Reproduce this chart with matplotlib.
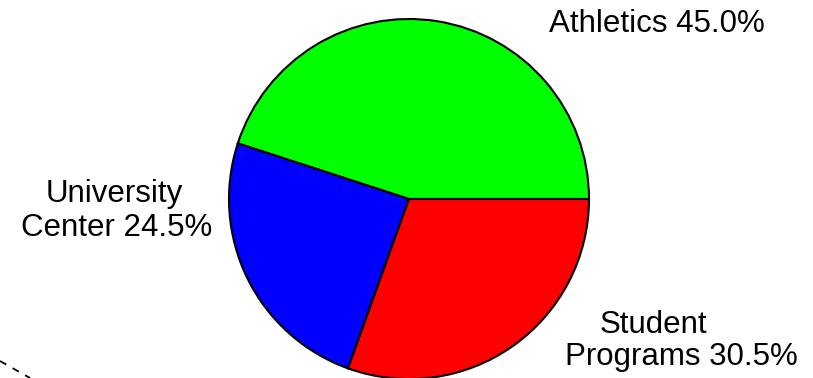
import matplotlib
matplotlib.use("Agg")
import matplotlib.pyplot as plt
from matplotlib.lines import Line2D

categories = ["Athletics", "University Center", "Student Programs"]
shares = [45.0, 24.5, 30.5]
colors = ["#00ff00", "#0000ff", "#ff0000"]

W, H = 813, 378
fig = plt.figure(figsize=(W / 100, H / 100), dpi=100)
ax = fig.add_axes([0, 0, 1, 1])

ax.pie(shares, colors=colors, startangle=0, counterclock=True,
       center=(409, H - 199), radius=180, frame=True,
       wedgeprops=dict(edgecolor="black", linewidth=1.5))
ax.set_xlim(0, W)
ax.set_ylim(0, H)
ax.set_aspect("equal")
ax.axis("off")

# label lines: (x centre, baseline y from top) for each line of each label
line_layout = [
    [(657, 32)],
    [(114, 202), (117, 236)],
    [(653, 333), (681, 365)],
]
for cat, v, spots in zip(categories, shares, line_layout):
    text = f"{cat} {v:.1f}%"
    if len(spots) == 2:
        first, rest = text.split(" ", 1)
        lines = [first, rest]
    else:
        lines = [text]
    for line, (x, yb) in zip(lines, spots):
        ax.text(x, H - yb, line, ha="center", va="baseline",
                family="Liberation Sans", fontsize=22.5)

# dashed guide in the lower-left corner
fig.add_artist(Line2D([0 / W, 30 / W], [1 - 361 / H, 1 - 378 / H],
                      transform=fig.transFigure, color="black",
                      linestyle=(0, (4, 4)), linewidth=1.3))

fig.savefig("out.png", dpi=100)
